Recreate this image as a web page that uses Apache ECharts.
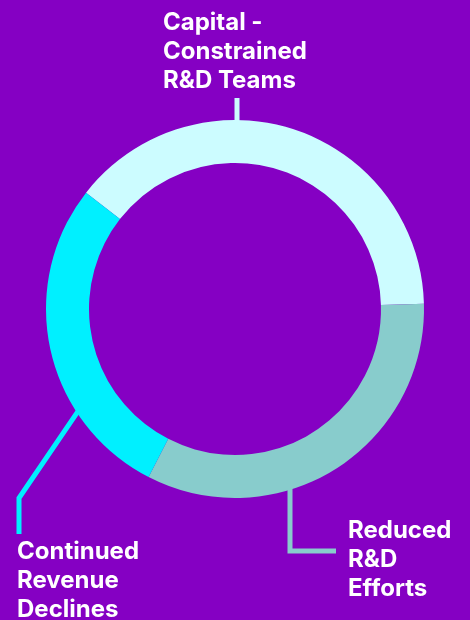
<!DOCTYPE html>
<html>
<head>
<meta charset="utf-8">
<script src="https://cdn.jsdelivr.net/npm/echarts@6/dist/echarts.min.js"></script>
<style>
html,body{margin:0;padding:0;background:#8500C3;}
#chart{width:470px;height:620px;}
</style>
</head>
<body>
<div id="chart"></div>
<script>
// Data
const categories = ['Capital -\nConstrained\nR&D Teams', 'Reduced\nR&D\nEfforts', 'Continued\nRevenue\nDeclines'];
const values = [39, 33, 28];
const colors = ['#CCFCFF', '#88CCCC', '#00F0FF'];

// Layout
const CX = 235, CY = 309, R_IN = 146, R_OUT = 189;
const anchorAngles = [89.4, -73, -147.5];   // degrees, where each label line meets the ring
const labelPos = [
  {x: 163, y: 8},
  {x: 348, y: 516},
  {x: 17, y: 537}
];
const lineRoutes = [
  [[237, 98]],
  [[290, 551], [336, 551]],
  [[19, 498], [19, 534]]
];

function anchor(i, r) {
  const a = anchorAngles[i] * Math.PI / 180;
  return [CX + r * Math.cos(a), CY - r * Math.sin(a)];
}

const chart = echarts.init(document.getElementById('chart'), null, {renderer: 'canvas'});
chart.setOption({
  backgroundColor: '#8500C3',
  animation: false,
  series: [{
    type: 'pie',
    center: [CX, CY],
    radius: [R_IN, R_OUT],
    startAngle: 142,
    clockwise: true,
    silent: true,
    emphasis: {disabled: true},
    avoidLabelOverlap: false,
    itemStyle: {borderWidth: 0},
    data: categories.map((c, i) => ({
      name: c, value: values[i],
      itemStyle: {color: colors[i]}
    })),
    label: {
      show: true,
      position: 'outside',
      formatter: '{b}',
      color: '#FFFFFF',
      fontFamily: 'Inter',
      fontWeight: 700,
      fontSize: 24,
      lineHeight: 29,
      align: 'left'
    },
    labelLine: {
      show: true,
      smooth: false,
      lineStyle: {width: 5}
    },
    labelLayout: function (params) {
      const i = params.dataIndex;
      const start = anchor(i, R_OUT - 6);
      if (i === 1) start[0] = 290;
      if (i === 0) start[0] = 237;
      return {
        x: labelPos[i].x,
        y: labelPos[i].y,
        align: 'left',
        verticalAlign: 'top',
        labelLinePoints: [start].concat(lineRoutes[i])
      };
    }
  }]
});
</script>
</body>
</html>
